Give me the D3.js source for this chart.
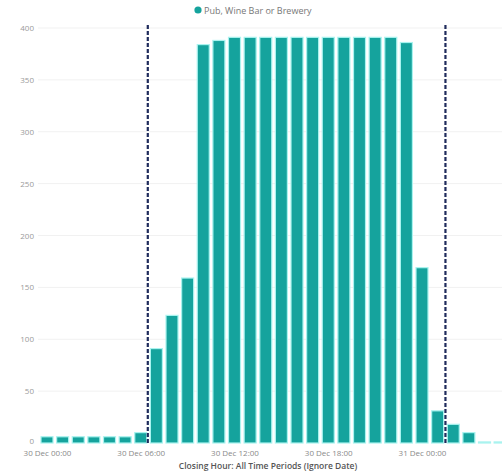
<!DOCTYPE html>
<html>
<head>
<meta charset="utf-8">
<script src="https://cdn.jsdelivr.net/npm/d3@7"></script>
<style>
html,body{margin:0;padding:0;background:#fff;}
svg{display:block;font-family:"Open Sans","Segoe UI",sans-serif;}
</style>
</head>
<body>
<svg id="chart" width="502" height="475"></svg>
<script>
// ---- data ----
const seriesName = "Pub, Wine Bar or Brewery";
const hours = ["2020-12-30T00:00","2020-12-30T01:00","2020-12-30T02:00","2020-12-30T03:00","2020-12-30T04:00","2020-12-30T05:00","2020-12-30T06:00","2020-12-30T07:00","2020-12-30T08:00","2020-12-30T09:00","2020-12-30T10:00","2020-12-30T11:00","2020-12-30T12:00","2020-12-30T13:00","2020-12-30T14:00","2020-12-30T15:00","2020-12-30T16:00","2020-12-30T17:00","2020-12-30T18:00","2020-12-30T19:00","2020-12-30T20:00","2020-12-30T21:00","2020-12-30T22:00","2020-12-30T23:00","2020-12-31T00:00","2020-12-31T01:00","2020-12-31T02:00","2020-12-31T03:00","2020-12-31T04:00","2020-12-31T05:00"];
const counts = [6,6,6,6,6,6,10,91,123,159,384,388,391,391,391,391,391,391,391,391,391,391,391,386,169,31,18,10,1,1];
const referenceLines = ["2020-12-30T06:27","2020-12-31T01:30"];
const xTickLabels = ["30 Dec 00:00","30 Dec 06:00","30 Dec 12:00","30 Dec 18:00","31 Dec 00:00"];
const xTickTimes = ["2020-12-30T00:00","2020-12-30T06:00","2020-12-30T12:00","2020-12-30T18:00","2020-12-31T00:00"];
const yTicks = [0,50,100,150,200,250,300,350,400];
const xTitle = "Closing Hour: All Time Periods (Ignore Date)";

// ---- render ----
const svg = d3.select("#chart");
const parse = d3.timeParse("%Y-%m-%dT%H:%M");
const H = 3600*1000;
const t0 = parse(hours[0]);
const x = d3.scaleTime()
  .domain([new Date(+t0 - 0.5*H), new Date(+t0 + 29.5*H)])
  .range([39.2, 39.2 + 30*15.625]);
const y = d3.scaleLinear().domain([0,400]).range([443, 28]);

const teal = "#15a39d";

// gridlines
svg.append("g").selectAll("line").data(yTicks.slice(1)).join("line")
  .attr("x1", 38).attr("x2", 502)
  .attr("y1", d => y(d)).attr("y2", d => y(d))
  .attr("stroke", "#f1f1f1").attr("stroke-width", 1);

// y axis
const yAxis = svg.append("g").attr("transform","translate(34,0)")
  .call(d3.axisLeft(y).tickValues(yTicks).tickSize(0).tickPadding(0));
yAxis.select(".domain").remove();
yAxis.selectAll("text").attr("fill","#9a9a9a").style("font-size","8px")
  .style("font-family","'Open Sans',sans-serif");
yAxis.selectAll(".tick").filter(d => d === 0).select("text").attr("dy","0.1em");

// bars
const bw = 12;
svg.append("g").selectAll("rect").data(hours.map((h,i)=>({t:parse(h), v:counts[i]}))).join("rect")
  .attr("x", d => x(d.t) - bw/2)
  .attr("width", bw)
  .attr("y", d => y(d.v))
  .attr("height", d => y(0) - y(d.v))
  .attr("fill", teal)
  .attr("stroke", "#a9f3ef").attr("stroke-width", 1.2);

// reference lines
svg.append("g").selectAll("line").data(referenceLines).join("line")
  .attr("x1", d => x(parse(d))).attr("x2", d => x(parse(d)))
  .attr("y1", 25).attr("y2", 443)
  .attr("stroke", "#1f2b5c").attr("stroke-width", 2.2)
  .attr("stroke-dasharray", "4,2");

// x axis
const xAxis = svg.append("g").attr("transform","translate(0,450)")
  .call(d3.axisBottom(x).tickValues(xTickTimes.map(parse))
    .tickFormat((d,i)=>xTickLabels[i]).tickSize(0).tickPadding(0));
xAxis.select(".domain").remove();
xAxis.selectAll("text").attr("fill","#8a8a8a").style("font-size","8px")
  .style("font-family","'Open Sans',sans-serif").attr("dy","0.71em");

// x title
svg.append("text").attr("x", 268).attr("y", 469).attr("text-anchor","middle")
  .attr("fill","#555").style("font-size","8.5px").style("font-weight","600")
  .text(xTitle);

// legend
svg.append("circle").attr("cx", 198).attr("cy", 10).attr("r", 3.6).attr("fill", teal);
svg.append("text").attr("x", 204).attr("y", 13.5).attr("fill","#777")
  .style("font-size","9px").text(seriesName);
</script>
</body>
</html>
